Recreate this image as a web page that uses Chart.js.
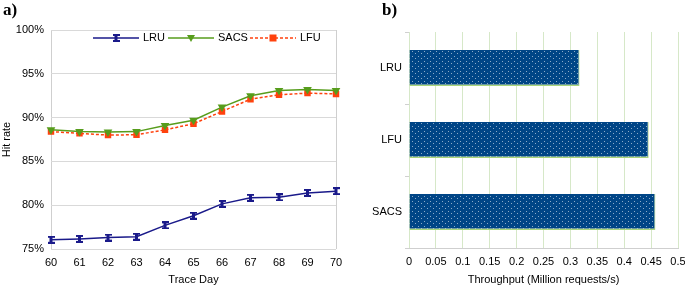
<!DOCTYPE html>
<html>
<head>
<meta charset="utf-8">
<script src="https://cdn.jsdelivr.net/npm/chart.js@4.4.1/dist/chart.umd.min.js"></script>
<style>
  body { margin: 0; background: #fff; }
  #wrap { position: relative; width: 685px; height: 287px; font-family: "Liberation Sans", Arial, sans-serif; }
  .panel { position: absolute; top: 0; height: 287px; }
  .tag { position: absolute; top: 0; font: bold 17px "Liberation Serif", serif; color: #000; }
</style>
</head>
<body>
<div id="wrap">
  <div class="panel" style="left:0;width:345px"><canvas id="hitChart" width="345" height="287"></canvas></div>
  <div class="panel" style="left:345px;width:340px"><canvas id="tputChart" width="340" height="287"></canvas></div>
  <div class="tag" style="left:3px">a)</div>
  <div class="tag" style="left:382px">b)</div>
</div>
<script>
// hit rate per trace day (%)
const days = ['60', '61', '62', '63', '64', '65', '66', '67', '68', '69', '70'];
const lruRate = [76.05, 76.15, 76.3, 76.4, 77.7, 78.8, 80.15, 80.85, 80.9, 81.4, 81.6];
const sacsRate = [88.6, 88.4, 88.35, 88.4, 89.1, 89.7, 91.2, 92.5, 93.1, 93.2, 93.1];
const lfuRate = [88.4, 88.2, 88.0, 88.05, 88.6, 89.3, 90.7, 92.1, 92.6, 92.8, 92.7];

// throughput (million requests/s)
const policies = ['LRU', 'LFU', 'SACS'];
const throughput = [0.317, 0.4455, 0.458];

Chart.defaults.font.family = '"Liberation Sans", Arial, sans-serif';
Chart.defaults.font.size = 11;
Chart.defaults.color = '#000';

const navy = '#1a1a8a';
const green = '#579d1c';
const orange = '#ff420e';

// I-beam marker for LRU
function makeIBeam() {
    const c = document.createElement('canvas');
    c.width = 7; c.height = 8;
    const g = c.getContext('2d');
    g.fillStyle = navy;
    g.fillRect(0, 0, 7, 2);
    g.fillRect(2, 0, 3, 8);
    g.fillRect(0, 6, 7, 2);
    return c;
}
const ibeam = makeIBeam();

// dotted fill for the bars
function makeDots() {
    const c = document.createElement('canvas');
    c.width = 6; c.height = 5;
    const g = c.getContext('2d');
    g.fillStyle = '#004586';
    g.fillRect(0, 0, 6, 5);
    g.fillStyle = 'rgba(255,255,255,0.55)';
    g.fillRect(1, 1, 1, 1);
    g.fillRect(4, 3, 1, 1);
    return g.createPattern(c, 'repeat');
}

const legendPlugin = {
    id: 'inlineLegend',
    afterDraw(chart) {
        const ctx = chart.ctx;
        const y = 38;
        const items = [
            { x: 93, text: 'LRU', color: navy, dash: [], mark: 'ibeam' },
            { x: 168, text: 'SACS', color: green, dash: [], mark: 'tri' },
            { x: 250, text: 'LFU', color: orange, dash: [3, 2], mark: 'rect' }
        ];
        ctx.save();
        items.forEach(it => {
            ctx.strokeStyle = it.color;
            ctx.lineWidth = 1.5;
            ctx.setLineDash(it.dash);
            ctx.beginPath();
            ctx.moveTo(it.x, y);
            ctx.lineTo(it.x + 46, y);
            ctx.stroke();
            ctx.setLineDash([]);
            const mx = it.x + 23;
            ctx.fillStyle = it.color;
            if (it.mark === 'ibeam') {
                ctx.drawImage(ibeam, mx - 3.5, y - 4);
            } else if (it.mark === 'tri') {
                ctx.beginPath();
                ctx.moveTo(mx - 4, y - 3);
                ctx.lineTo(mx + 4, y - 3);
                ctx.lineTo(mx, y + 4);
                ctx.closePath();
                ctx.fill();
            } else {
                ctx.fillRect(mx - 3.5, y - 3.5, 7, 7);
            }
            ctx.fillStyle = '#000';
            ctx.font = '11px "Liberation Sans", Arial, sans-serif';
            ctx.textBaseline = 'middle';
            ctx.fillText(it.text, it.x + 50, y);
        });
        ctx.restore();
    }
};

new Chart(document.getElementById('hitChart'), {
    type: 'line',
    data: {
        labels: days,
        datasets: [
            {
                label: 'LRU', data: lruRate, borderColor: navy, backgroundColor: navy,
                borderWidth: 1.5, pointStyle: ibeam, pointRadius: 4, tension: 0
            },
            {
                label: 'SACS', data: sacsRate, borderColor: green, backgroundColor: green,
                borderWidth: 1.5, pointStyle: 'triangle', rotation: 180, pointRadius: 3.5, tension: 0
            },
            {
                label: 'LFU', data: lfuRate, borderColor: orange, backgroundColor: orange,
                borderWidth: 1.5, borderDash: [3, 2], pointStyle: 'rect', pointRadius: 3.5, tension: 0
            }
        ]
    },
    options: {
        responsive: false,
        devicePixelRatio: 1,
        animation: false,
        layout: { padding: { left: 0, top: 30, right: 9, bottom: 0 } },
        plugins: { legend: { display: false }, tooltip: { enabled: false } },
        scales: {
            x: {
                grid: {
                    drawTicks: false,
                    color: c => (c.index === 0 || c.index === days.length - 1) ? '#cfcfcf' : 'transparent'
                },
                border: { display: false },
                ticks: { padding: 7, maxRotation: 0 },
                title: { display: true, text: 'Trace Day', padding: 0 },
                afterFit: s => { s.height = 38; s.paddingLeft = 0; s.paddingRight = 0; }
            },
            y: {
                min: 75,
                max: 100,
                grid: { drawTicks: false, color: '#d9d9d9' },
                border: { display: false },
                ticks: { stepSize: 5, padding: 7, callback: v => v + '%' },
                title: { display: true, text: 'Hit rate', padding: 0 },
                afterFit: s => { s.width = 51; s.paddingTop = 0; s.paddingBottom = 0; }
            }
        }
    },
    plugins: [legendPlugin]
});

new Chart(document.getElementById('tputChart'), {
    type: 'bar',
    data: {
        labels: policies,
        datasets: [{
            label: 'Throughput',
            data: throughput,
            backgroundColor: makeDots(),
            borderColor: '#a8d47a',
            borderWidth: { top: 0, left: 0, right: 1, bottom: 1.5 },
            borderSkipped: false,
            categoryPercentage: 0.5,
            barPercentage: 1
        }]
    },
    options: {
        indexAxis: 'y',
        responsive: false,
        devicePixelRatio: 1,
        animation: false,
        layout: { padding: { left: 0, top: 32, right: 7, bottom: 0 } },
        plugins: { legend: { display: false }, tooltip: { enabled: false } },
        scales: {
            x: {
                min: 0,
                max: 0.5,
                grid: { drawTicks: false, color: '#d6e8c8' },
                border: { display: true, color: '#cfcfcf' },
                ticks: { stepSize: 0.05, padding: 7, maxRotation: 0, callback: v => +v.toFixed(2) },
                title: { display: true, text: 'Throughput (Million requests/s)', padding: 0 },
                afterFit: s => { s.height = 39; s.paddingLeft = 0; s.paddingRight = 0; }
            },
            y: {
                grid: { drawOnChartArea: false, drawTicks: true, tickLength: 4, color: '#d0d0d0' },
                border: { display: false },
                ticks: { padding: 3 },
                afterFit: s => { s.width = 64; s.paddingTop = 0; s.paddingBottom = 0; }
            }
        }
    }
});
</script>
</body>
</html>
